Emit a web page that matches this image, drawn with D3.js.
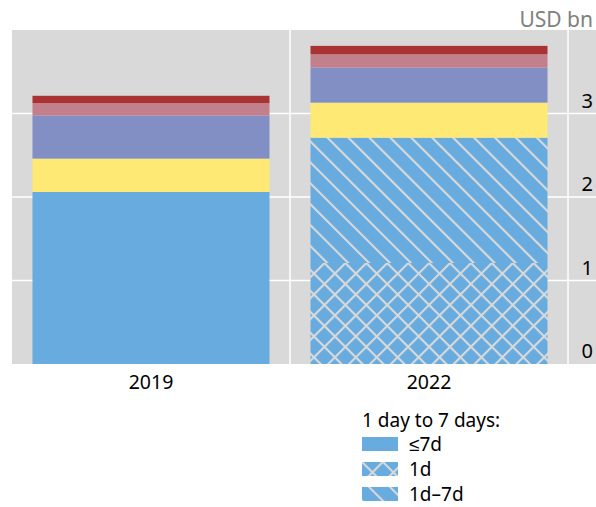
<!DOCTYPE html>
<html>
<head>
<meta charset="utf-8">
<script src="https://cdn.jsdelivr.net/npm/d3@7"></script>
<style>
  body { margin: 0; background: #fff; }
  svg text { font-family: "Noto Sans", sans-serif; }
</style>
</head>
<body>
<svg class="chart"></svg>
<script>
// data (USD bn)
var categories = ["2019", "2022"];
var upTo7d    = [2.06, 0];     // plain blue, <=7d
var oneDay    = [0, 1.21];     // cross hatch, 1d
var oneTo7d   = [0, 1.50];     // diagonal hatch, 1d-7d
var yellowSer = [0.40, 0.42];
var purpleSer = [0.515, 0.42];
var pinkSer   = [0.15, 0.16];
var redSer    = [0.087, 0.10];
var yTicks = [0, 1, 2, 3];
var legendTitle = "1 day to 7 days:";
var legendLabels = ["≤7d", "1d", "1d–7d"];

var keys = ["upTo7d", "oneDay", "oneTo7d", "yellow", "purple", "pink", "red"];
var fills = {
	upTo7d: "#67abdf",
	oneDay: "url(#cross)",
	oneTo7d: "url(#diag)",
	yellow: "#ffe975",
	purple: "#818fc5",
	pink: "#c27f8c",
	red: "#a93232"
};

var rows = categories.map((c, i) => ({
	cat: c,
	upTo7d: upTo7d[i],
	oneDay: oneDay[i],
	oneTo7d: oneTo7d[i],
	yellow: yellowSer[i],
	purple: purpleSer[i],
	pink: pinkSer[i],
	red: redSer[i]
}));

var width = 596, height = 507;
var plot = {left: 12, right: 568, top: 30, bottom: 364};

var svg = d3.select(".chart")
	.attr("width", width)
	.attr("height", height);

// hatch patterns
var defs = svg.append("defs");
var s = 14.8;
var cross = defs.append("pattern")
	.attr("id", "cross")
	.attr("patternUnits", "userSpaceOnUse")
	.attr("width", s).attr("height", s)
	.attr("patternTransform", "rotate(45)");
cross.append("rect").attr("width", s).attr("height", s).attr("fill", "#67abdf");
cross.append("line").attr("x1", 1).attr("x2", 1).attr("y1", 0).attr("y2", s)
	.attr("stroke", "#d9d9d9").attr("stroke-width", 2.2);
cross.append("line").attr("x1", 0).attr("x2", s).attr("y1", 1).attr("y2", 1)
	.attr("stroke", "#d9d9d9").attr("stroke-width", 2.2);

var diag = defs.append("pattern")
	.attr("id", "diag")
	.attr("patternUnits", "userSpaceOnUse")
	.attr("width", s).attr("height", s)
	.attr("patternTransform", "rotate(-45)");
diag.append("rect").attr("width", s).attr("height", s).attr("fill", "#67abdf");
diag.append("line").attr("x1", 1).attr("x2", 1).attr("y1", 0).attr("y2", s)
	.attr("stroke", "#d9d9d9").attr("stroke-width", 2.2);

var x = d3.scaleBand()
	.domain(categories)
	.range([plot.left, plot.right])
	.paddingInner(0.1475)
	.paddingOuter(0.0737);

var y = d3.scaleLinear()
	.domain([0, 4])
	.range([plot.bottom, plot.top]);

// grey panel
svg.append("rect")
	.attr("x", plot.left).attr("y", plot.top)
	.attr("width", width - plot.left).attr("height", plot.bottom - plot.top)
	.attr("fill", "#d9d9d9");

// horizontal grid
svg.append("g")
	.selectAll("line").data(yTicks.filter(t => t > 0)).enter().append("line")
		.attr("x1", plot.left).attr("x2", width)
		.attr("y1", d => y(d)).attr("y2", d => y(d))
		.attr("stroke", "#fff").attr("stroke-width", 1.5);

// category separators
var gap = (x.step() - x.bandwidth()) / 2;
svg.append("g")
	.selectAll("line").data(categories).enter().append("line")
		.attr("x1", d => x(d) + x.bandwidth() + gap)
		.attr("x2", d => x(d) + x.bandwidth() + gap)
		.attr("y1", plot.top).attr("y2", plot.bottom)
		.attr("stroke", "#fff").attr("stroke-width", 1.5);

// stacked bars
var stack = d3.stack().keys(keys)(rows);
svg.append("g")
	.selectAll("g").data(stack).enter().append("g")
		.attr("fill", d => fills[d.key])
	.selectAll("rect").data(d => d).enter().append("rect")
		.attr("x", d => x(d.data.cat))
		.attr("y", d => y(d[1]))
		.attr("width", x.bandwidth())
		.attr("height", d => y(d[0]) - y(d[1]));

// y tick labels (right side)
svg.append("g")
	.selectAll("text").data(yTicks).enter().append("text")
		.attr("x", 593)
		.attr("y", d => y(d) - 6)
		.attr("text-anchor", "end")
		.attr("font-size", 20)
		.attr("fill", "#000")
		.text(d => d);

svg.append("text")
	.attr("x", 593).attr("y", 27)
	.attr("text-anchor", "end")
	.attr("font-size", 21)
	.attr("fill", "#808080")
	.text("USD bn");

// x labels
svg.append("g")
	.selectAll("text").data(categories).enter().append("text")
		.attr("x", d => x(d) + x.bandwidth() / 2)
		.attr("y", 389)
		.attr("text-anchor", "middle")
		.attr("font-size", 19.5)
		.attr("fill", "#000")
		.text(d => d);

// legend
var legend = svg.append("g").attr("transform", "translate(362,0)");
legend.append("text")
	.attr("x", 0).attr("y", 427)
	.attr("font-size", 19)
	.text(legendTitle);
var legFills = [fills.upTo7d, fills.oneDay, fills.oneTo7d];
var legY = [437, 462, 487];
legend.selectAll("rect.sw").data(legendLabels).enter().append("rect")
	.attr("class", "sw")
	.attr("x", 0).attr("y", (d, i) => legY[i])
	.attr("width", 36).attr("height", 14)
	.attr("fill", (d, i) => legFills[i]);
legend.selectAll("text.lb").data(legendLabels).enter().append("text")
	.attr("class", "lb")
	.attr("x", 47).attr("y", (d, i) => legY[i] + 14)
	.attr("font-size", 19)
	.text(d => d);
</script>
</body>
</html>
